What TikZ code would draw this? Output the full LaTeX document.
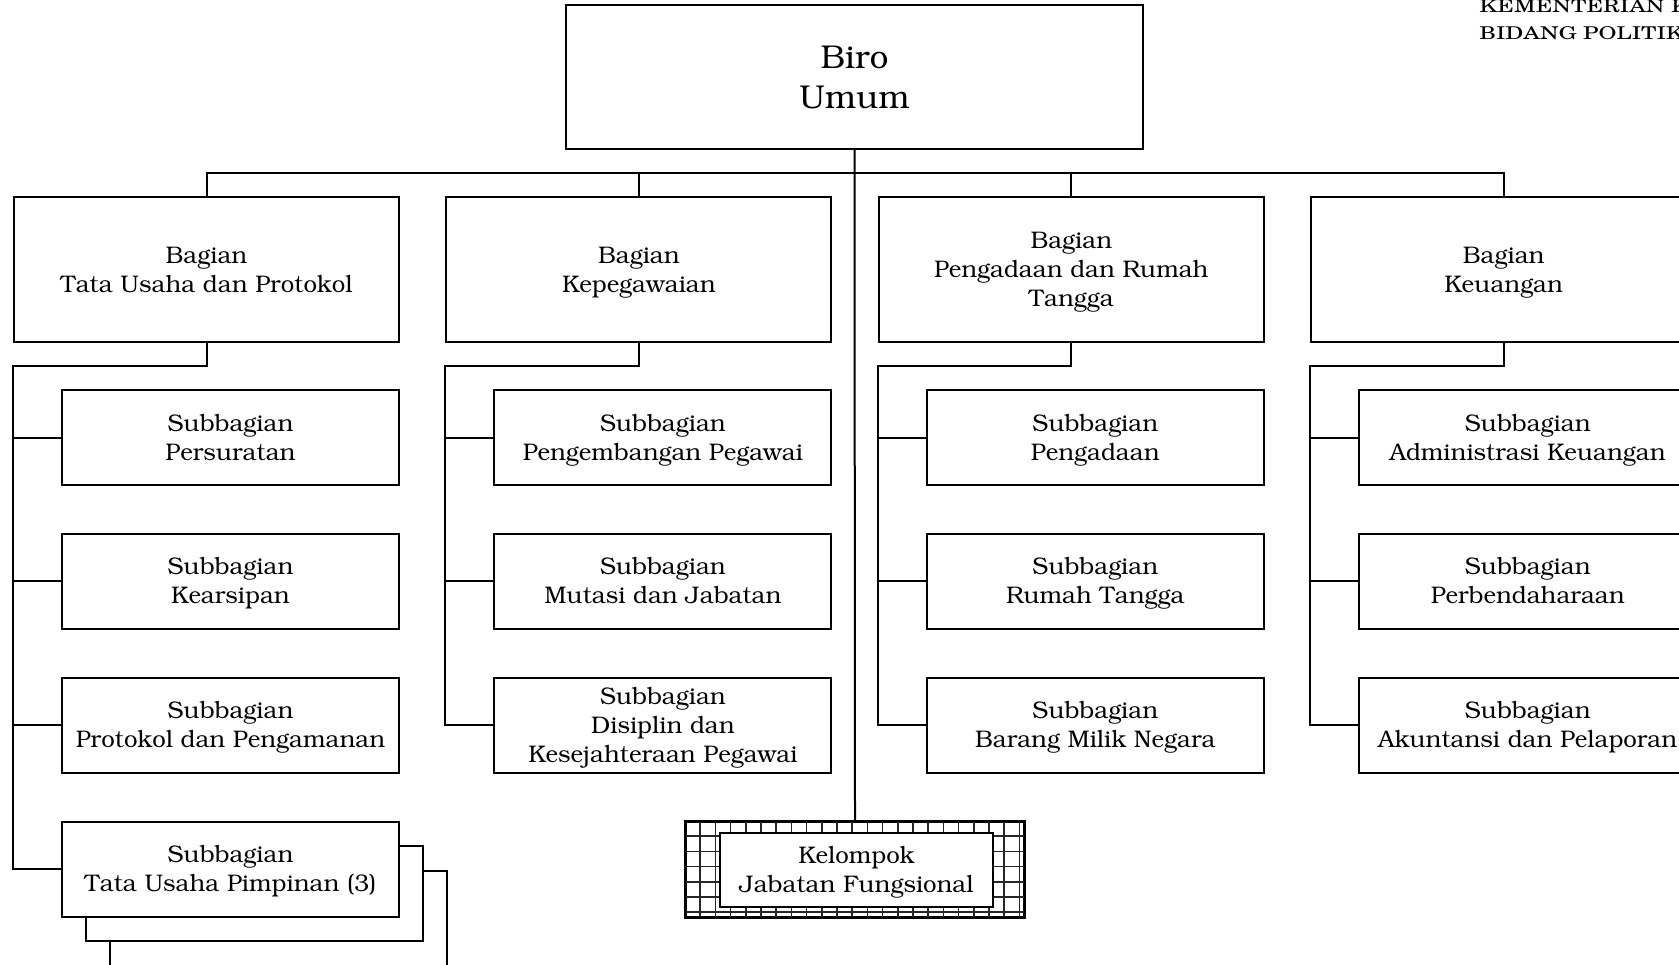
\documentclass[tikz,border=0pt]{standalone}
\usepackage[T1]{fontenc}
\usepackage{bookman}
\usepackage{tikz}

\begin{document}
\begin{tikzpicture}[x=0.5pt,y=-0.5pt,
    box/.style={draw=black, fill=white, line width=1pt, align=center, inner sep=0pt, text depth=0pt},
    biro/.style={box, minimum width=288.5pt, minimum height=72pt, font=\fontsize{16.5}{20}\selectfont},
    bagian/.style={box, minimum width=192.5pt, minimum height=72.5pt, font=\fontsize{12}{14.5}\selectfont},
    subbag/.style={box, minimum width=168.5pt, minimum height=47.5pt, font=\fontsize{12}{14.5}\selectfont},
    garis/.style={line width=1pt},
    kop/.style={anchor=base west, inner sep=0pt, font=\fontfamily{pnc}\fontsize{8.8}{10}\selectfont}]

    \useasboundingbox (0,0) rectangle (1679,964);
    \clip (0,0) rectangle (1679,964);

    % kop surat
    \node[kop] (kop1) at (1479,12.7) {\scalebox{1.31}[1]{KEMENTERIAN KOORDINATOR}};
    \node[kop] (kop2) at (1479,39.3) {\scalebox{1.31}[1]{BIDANG POLITIK, HUKUM, DAN KEAMANAN}};

    % pimpinan
    \node[biro] (biro) at (854.5,77) {Biro\\Umum};

    % bagian
    \node[bagian] (bag1) at (206.5,269.5) {Bagian\\Tata Usaha dan Protokol};
    \node[bagian] (bag2) at (638.9,269.5) {Bagian\\Kepegawaian};
    \node[bagian] (bag3) at (1071.3,269.5) {Bagian\\Pengadaan dan Rumah\\Tangga};
    \node[bagian] (bag4) at (1503.7,269.5) {Bagian\\Keuangan};

    % subbagian tata usaha dan protokol
    \node[subbag] (s11) at (230.5,437.5) {Subbagian\\Persuratan};
    \node[subbag] (s12) at (230.5,581) {Subbagian\\Kearsipan};
    \node[subbag] (s13) at (230.5,725) {Subbagian\\Protokol dan Pengamanan};
    \node[subbag] (s14c) at (278.5,918) {};
    \node[subbag] (s14b) at (254.5,893) {};
    \node[subbag] (s14) at (230.5,869) {Subbagian\\Tata Usaha Pimpinan (3)};

    % subbagian kepegawaian
    \node[subbag] (s21) at (662.9,437.5) {Subbagian\\Pengembangan Pegawai};
    \node[subbag] (s22) at (662.9,581) {Subbagian\\Mutasi dan Jabatan};
    \node[subbag] (s23) at (662.9,725) {Subbagian\\Disiplin dan\\Kesejahteraan Pegawai};

    % subbagian pengadaan dan rumah tangga
    \node[subbag] (s31) at (1095.3,437.5) {Subbagian\\Pengadaan};
    \node[subbag] (s32) at (1095.3,581) {Subbagian\\Rumah Tangga};
    \node[subbag] (s33) at (1095.3,725) {Subbagian\\Barang Milik Negara};

    % subbagian keuangan
    \node[subbag] (s41) at (1527.7,437.5) {Subbagian\\Administrasi Keuangan};
    \node[subbag] (s42) at (1527.7,581) {Subbagian\\Perbendaharaan};
    \node[subbag] (s43) at (1527.7,725) {Subbagian\\Akuntansi dan Pelaporan};

    % kelompok jabatan fungsional
    \node[box, minimum width=169pt, minimum height=47.5pt] (kel) at (855,869.5) {};
    \begin{scope}
        \clip (kel.south west) rectangle (kel.north east);
        \draw[line width=0.75pt, black!85, shift={(kel.north west)}, step=7.6pt] (0,0) grid (340,100);
    \end{scope}
    \draw[garis] (kel.south west) rectangle (kel.north east);
    \node[box, minimum width=136.5pt, minimum height=37pt, font=\fontsize{12}{14.5}\selectfont] (jf) at (856.5,870) {Kelompok\\Jabatan Fungsional};

    % garis komando
    \coordinate (bus) at (855,173);
    \draw[garis] (biro.south) -- (kel.north);
    \draw[garis] (bag1.north) |- (bus) -| (bag4.north);
    \draw[garis] (bag2.north) -- (bag2.north |- bus);
    \draw[garis] (bag3.north) -- (bag3.north |- bus);

    \draw[garis] (bag1.south) -- ++(0,23) -| (bag1.west |- s14.west) -- (s14.west);
    \draw[garis] (bag2.south) -- ++(0,23) -| (bag2.west |- s23.west) -- (s23.west);
    \draw[garis] (bag3.south) -- ++(0,23) -| (bag3.west |- s33.west) -- (s33.west);
    \draw[garis] (bag4.south) -- ++(0,23) -| (bag4.west |- s43.west) -- (s43.west);
    \foreach \b/\s in {1/s11,1/s12,1/s13,2/s21,2/s22,3/s31,3/s32,4/s41,4/s42}
        \draw[garis] (bag\b.west |- \s.west) -- (\s.west);
\end{tikzpicture}
\end{document}
